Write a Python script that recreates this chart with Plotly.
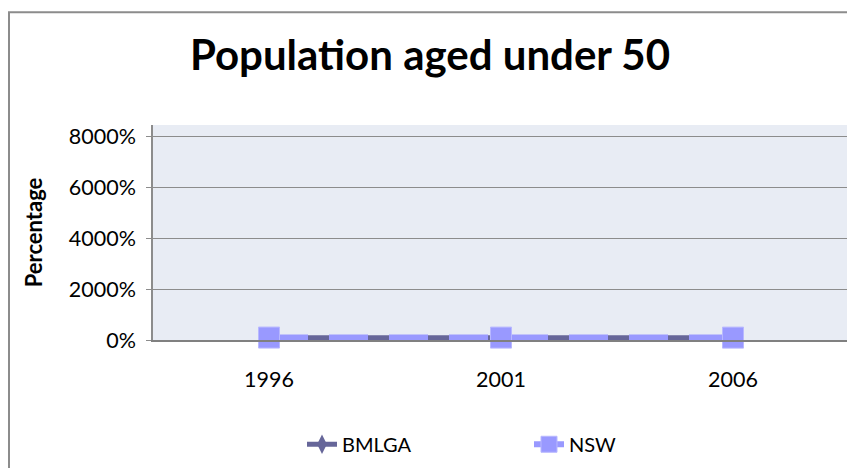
import plotly.graph_objects as go

years = ["1996", "2001", "2006"]
bmlga = [0.90, 0.88, 0.86]
nsw = [0.96, 0.95, 0.94]
y_ticks = [0, 20, 40, 60, 80]

# the page body has an 8px margin, so the figure is sized to the remaining view
OFF = 8
W, H = 855 - OFF, 468 - OFF
L = 153 - OFF
T = 125 - OFF
R = W - (849 - OFF)
B = H - (341.5 - OFF)

fig = go.Figure()
fig.add_trace(go.Scatter(
    x=years, y=bmlga, name="BMLGA", mode="lines+markers", cliponaxis=False,
    line=dict(color="#666699", width=5),
    marker=dict(symbol="diamond-tall", size=14, color="#666699"),
))
fig.add_trace(go.Scatter(
    x=years, y=nsw, name="NSW", mode="lines+markers", cliponaxis=False,
    line=dict(color="#9999FF", width=6, dash="39px,21px"),
    marker=dict(symbol="square", size=21, color="#9999FF",
                line=dict(color="#B8B8FF", width=1)),
))

pw = W - L - R
ph = H - T - B
plot_bottom = H - B
fig.add_shape(type="rect", xref="paper", yref="paper",
              x0=(9 - OFF - L) / pw, x1=1.5, y0=-1.5,
              y1=(plot_bottom - (11.5 - OFF)) / ph,
              line=dict(color="#8C8C8C", width=2), fillcolor="rgba(0,0,0,0)",
              layer="below")

fig.update_layout(
    width=W, height=H,
    margin=dict(l=L, r=R, t=T, b=B),
    paper_bgcolor="white",
    plot_bgcolor="#E8ECF4",
    font=dict(family="Lato", color="black"),
    title=dict(text="<b>Population aged under 50</b>", x=(430 - OFF) / W, xref="container",
               xanchor="center", y=1 - (55 - OFF) / H, yref="container", yanchor="middle",
               font=dict(size=42, family="Lato", color="black")),
    xaxis=dict(type="category", range=[-0.5, 2.5], showgrid=False,
               showline=True, linecolor="#808080", linewidth=1.5,
               ticks="", tickfont=dict(size=21.5), ticklabelstandoff=19,
               zeroline=False),
    yaxis=dict(range=[0, 84.7], tickvals=y_ticks, tickformat=".0%",
               showgrid=True, gridcolor="#8C8C8C", gridwidth=1.2,
               showline=True, linecolor="#8C8C8C", linewidth=1.5,
               ticks="outside", ticklen=5, tickcolor="#8C8C8C",
               tickfont=dict(size=21.5), ticklabelstandoff=6,
               zeroline=False,
               title=dict(text="<b>Percentage</b>", font=dict(size=22), standoff=20)),
    legend=dict(orientation="h", x=(521 - L) / pw, xanchor="center",
                y=(plot_bottom - (445 - OFF)) / ph, yanchor="middle",
                font=dict(size=20), entrywidth=182, bgcolor="rgba(0,0,0,0)"),
    showlegend=True,
)

fig.write_html("out.html")
